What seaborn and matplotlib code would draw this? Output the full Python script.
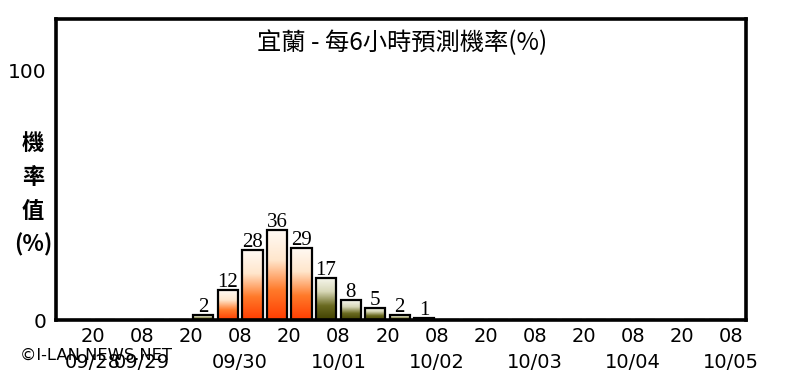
import numpy as np
import pandas as pd
import matplotlib
matplotlib.use("Agg")
import matplotlib.pyplot as plt
from matplotlib.colors import LinearSegmentedColormap
import seaborn as sns

# ---- data ----
slot_values = [0, 0, 0, 0, 0, 2, 12, 28, 36, 29, 17, 8, 5, 2, 1,
               0, 0, 0, 0, 0, 0, 0, 0, 0, 0, 0, 0, 0]
slot_colors = ["olive"] * 5 + ["olive", "orange", "orange", "orange", "orange",
               "olive", "olive", "olive", "olive", "red"] + ["olive"] * 13
hour_labels = ["20", "08", "20", "08", "20", "08", "20", "08", "20", "08", "20", "08", "20", "08"]
date_labels = ["09/28", "09/29", "", "09/30", "", "10/01", "", "10/02", "", "10/03", "", "10/04", "", "10/05"]
title_text = "宜蘭 - 每6小時預測機率(%)"
ylabel_chars = ["機", "率", "值", "(%)"]
credit_text = "©I-LAN NEWS.NET"

df = pd.DataFrame({"slot": list(range(len(slot_values))), "value": slot_values, "kind": slot_colors})

sns.set_theme(style="white")
plt.rcParams["font.family"] = ["DejaVu Sans", "Noto Sans CJK TC"]
cjk = ["Noto Sans CJK TC", "DejaVu Sans"]

fig = plt.figure(figsize=(8, 3.83), dpi=100)
ax = fig.add_axes([56 / 800, 1 - 320 / 383, 690 / 800, 301 / 383])

sns.barplot(data=df, x="slot", y="value", order=list(range(len(slot_values))),
            color="white", edgecolor="black", linewidth=1.6, width=0.82, ax=ax,
            errorbar=None, native_scale=False)

cmaps = {
    "orange": LinearSegmentedColormap.from_list("o", ["#ff3c00", "#ff7a2a", "#ffe6cc", "#fffaf5"]),
    "olive": LinearSegmentedColormap.from_list("g", ["#404000", "#6a6a20", "#d8d8b8", "#f8f8f0"]),
    "red": LinearSegmentedColormap.from_list("r", ["#d81800", "#e83010"]),
}
grad = np.linspace(0, 1, 256).reshape(-1, 1)
for patch, kind, v in zip(ax.patches, slot_colors, slot_values):
    if v <= 0:
        continue
    x0, y0 = patch.get_x(), patch.get_y()
    w, h = patch.get_width(), patch.get_height()
    patch.set_facecolor("none")
    patch.set_zorder(3)
    im = ax.imshow(grad, cmap=cmaps[kind], origin="lower", aspect="auto",
                   extent=[x0, x0 + w, y0, y0 + h], zorder=2, interpolation="bilinear")
    im.set_clip_path(patch)
    ax.text(x0 + w / 2, h - 0.9, f"{v}", ha="center", va="bottom",
            family="Liberation Serif", fontsize=15, color="black", zorder=4)

ax.set_xlim(-1.0, 27.1)
ax.set_ylim(0, 120.5)

tick_pos = [0.5 + 2 * i for i in range(len(hour_labels))]
ax.set_xticks(tick_pos)
ax.set_xticklabels([f"{h}\n{d}" if d else h for h, d in zip(hour_labels, date_labels)],
                   fontsize=14, color="black", linespacing=1.45)
ax.set_yticks([0, 100])
ax.set_yticklabels(["0", "100"], fontsize=14.5, color="black")
ax.tick_params(axis="both", length=0, pad=5)
ax.tick_params(axis="y", pad=7)
ax.set_xlabel("")
ax.set_ylabel("")

for s in ax.spines.values():
    s.set_visible(True)
    s.set_color("black")
    s.set_linewidth(2.6)

fig.text(402 / 800, 1 - 43 / 383, title_text, ha="center", va="center",
         family=cjk, fontsize=17.5, fontweight="medium", color="black")

for i, ch in enumerate(ylabel_chars):
    fig.text(33 / 800, 1 - (143 + 34 * i) / 383, ch, ha="center", va="center",
             family=cjk, fontsize=16, fontweight="semibold", color="black")

fig.text(20 / 800, 1 - 355 / 383, credit_text, ha="left", va="center",
         fontsize=11.8, color="black")

fig.savefig("out.png", dpi=100, facecolor="white")
